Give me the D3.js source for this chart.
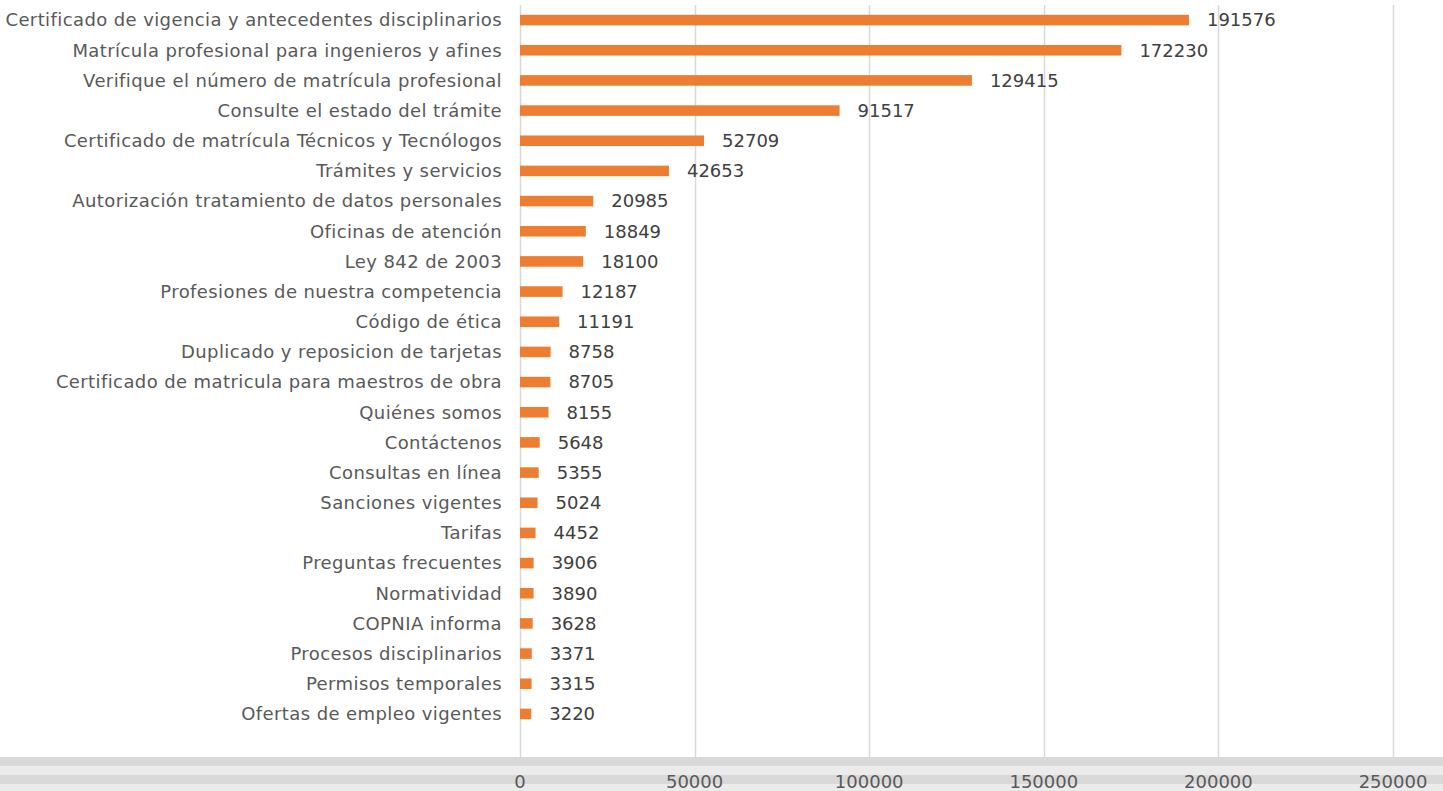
<!DOCTYPE html>
<html>
<head>
<meta charset="utf-8">
<script src="https://cdn.jsdelivr.net/npm/d3@7"></script>
<style>
  body { margin: 0; background: #fff; }
  svg { display: block; font-family: "DejaVu Sans", Verdana, sans-serif; }
</style>
</head>
<body>
<div id="chart"></div>
<script>
const categories = [
  "Certificado de vigencia y antecedentes disciplinarios",
  "Matrícula profesional para ingenieros y afines",
  "Verifique el número de matrícula profesional",
  "Consulte el estado del trámite",
  "Certificado de matrícula Técnicos y Tecnólogos",
  "Trámites y servicios",
  "Autorización tratamiento de datos personales",
  "Oficinas de atención",
  "Ley 842 de 2003",
  "Profesiones de nuestra competencia",
  "Código de ética",
  "Duplicado y reposicion de tarjetas",
  "Certificado de matricula para maestros de obra",
  "Quiénes somos",
  "Contáctenos",
  "Consultas en línea",
  "Sanciones vigentes",
  "Tarifas",
  "Preguntas frecuentes",
  "Normatividad",
  "COPNIA informa",
  "Procesos disciplinarios",
  "Permisos temporales",
  "Ofertas de empleo vigentes"
]
const visits = [191576, 172230, 129415, 91517, 52709, 42653, 20985, 18849, 18100,
  12187, 11191, 8758, 8705, 8155, 5648, 5355, 5024, 4452, 3906, 3890, 3628, 3371, 3315, 3220]
const ticks = [0, 50000, 100000, 150000, 200000, 250000]

const data = categories.map((c, i) => ({name: c, count: visits[i]}))

let dim = {'width': 1443, 'height': 791}

let svg = d3.select('#chart').append('svg')
    .attr('width', dim.width)
    .attr('height', dim.height)

let scaleX = d3.scaleLinear()
    .domain([0, 250000])
    .range([520, 1393])

let scaleY = d3.scaleBand()
    .domain(categories)
    .range([5, 729])
    .paddingInner(0.65)
    .paddingOuter(0.325)

// bottom bands (scrollbar look)
svg.append('rect').attr('x', 0).attr('y', 757).attr('width', dim.width).attr('height', 9).attr('fill', '#d9d9d9')
svg.append('rect').attr('x', 0).attr('y', 766).attr('width', dim.width).attr('height', 9).attr('fill', '#ebebeb')
svg.append('rect').attr('x', 0).attr('y', 775).attr('width', dim.width).attr('height', 9).attr('fill', '#d9d9d9')
svg.append('rect').attr('x', 0).attr('y', 784).attr('width', dim.width).attr('height', 7).attr('fill', '#ebebeb')

// gridlines
svg.selectAll('line.grid')
    .data(ticks)
    .enter()
    .append('line')
    .attr('class', 'grid')
    .attr('x1', d => Math.round(scaleX(d)) + 0.5)
    .attr('x2', d => Math.round(scaleX(d)) + 0.5)
    .attr('y1', 5)
    .attr('y2', 757)
    .attr('stroke', '#d9d9d9')
    .attr('stroke-width', 1.5)

// tick labels
svg.selectAll('text.tick')
    .data(ticks)
    .enter()
    .append('text')
    .attr('class', 'tick')
    .attr('x', d => scaleX(d))
    .attr('y', 782)
    .attr('dy', '0.35em')
    .attr('text-anchor', 'middle')
    .attr('fill', '#595959')
    .attr('font-size', 18)
    .text(d => d)

svg.selectAll('rect.bar')
    .data(data)
    .enter()
    .append('rect')
    .attr('class', 'bar')
    .attr('x', scaleX(0))
    .attr('y', d => scaleY(d.name))
    .attr('width', d => scaleX(d.count) - scaleX(0))
    .attr('height', scaleY.bandwidth())
    .attr('fill', '#ed7d31')

svg.selectAll('text.cat')
    .data(data)
    .enter()
    .append('text')
    .attr('class', 'cat')
    .attr('x', 502)
    .attr('y', d => scaleY(d.name) + scaleY.bandwidth() / 2)
    .attr('dy', '0.35em')
    .attr('text-anchor', 'end')
    .attr('fill', '#595959')
    .attr('font-size', 18)
    .attr('letter-spacing', 0.4)
    .text(d => d.name)

svg.selectAll('text.val')
    .data(data)
    .enter()
    .append('text')
    .attr('class', 'val')
    .attr('x', d => scaleX(d.count) + 18)
    .attr('y', d => scaleY(d.name) + scaleY.bandwidth() / 2)
    .attr('dy', '0.35em')
    .attr('fill', '#404040')
    .attr('font-size', 18)
    .text(d => d.count)
</script>
</body>
</html>
